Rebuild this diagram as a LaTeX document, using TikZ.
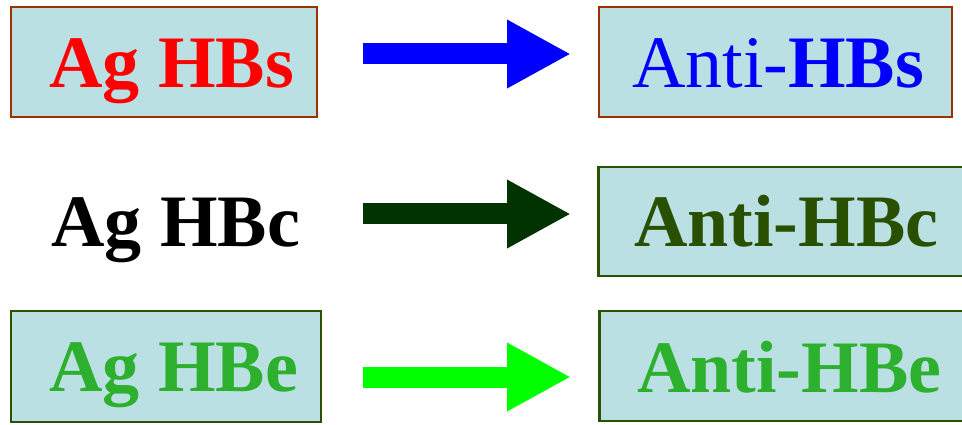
\documentclass[tikz,border=0pt]{standalone}
\usepackage{fontspec}
\setmainfont{Liberation Serif}
\usetikzlibrary{arrows.meta}
\definecolor{boxfill}{RGB}{187,224,227}
\definecolor{brownline}{RGB}{153,51,0}
\definecolor{dkgreenline}{RGB}{43,82,0}
\definecolor{dkgreentext}{RGB}{40,80,0}
\definecolor{greentext}{RGB}{45,176,45}
\definecolor{arrowdk}{RGB}{0,51,0}
\definecolor{arrowlt}{RGB}{0,255,0}
\tikzset{
  box/.style={draw, fill=boxfill, line width=2.2pt, inner sep=0pt},
  lbl/.style={anchor=base west, inner sep=0pt, font=\fontsize{74}{80}\selectfont},
  blockarrow/.style={line width=21pt, -{Triangle[length=64pt,width=64pt]}}
}
\begin{document}
\begin{tikzpicture}[x=1pt,y=-1pt]
\useasboundingbox (0,0) rectangle (962,425);
% boxes
\node[box, draw=brownline, minimum width=305.5pt, minimum height=109.5pt] (b1) at (164,62) {};
\node[box, draw=brownline, minimum width=352.5pt, minimum height=109.5pt] (b2) at (775.5,62) {};
\node[box, draw=dkgreenline, minimum width=370pt, minimum height=108.5pt] (b3) at (783.5,221.5) {};
\node[box, draw=dkgreenline, minimum width=309.5pt, minimum height=110.5pt] (b4) at (166,366.5) {};
\node[box, draw=dkgreenline, minimum width=370pt, minimum height=109.5pt] (b5) at (784.5,366) {};
% texts
\node[lbl, text=red] (t1) at (49,88) {\bfseries Ag HBs};
\node[lbl, text=blue] (t2) at (632,88) {Anti-\textbf{HBs}};
\node[lbl, text=black] (t3) at (51,246) {\bfseries Ag HBc};
\node[lbl, text=dkgreentext] (t4) at (634,247) {\bfseries Anti-HBc};
\node[lbl, text=greentext] (t5) at (49,391) {\bfseries Ag HBe};
\node[lbl, text=greentext] (t6) at (637,392) {\bfseries Anti-HBe};
% arrow ends
\coordinate (a1s) at (363,54);  \coordinate (a1e) at (571,54);
\coordinate (a2s) at (363,214); \coordinate (a2e) at (571,214);
\coordinate (a3s) at (363,377); \coordinate (a3e) at (571,377);
\draw[blockarrow, blue, fill=blue] (a1s) -- (a1e);
\draw[blockarrow, arrowdk, fill=arrowdk] (a2s) -- (a2e);
\draw[blockarrow, arrowlt, fill=arrowlt] (a3s) -- (a3e);
\end{tikzpicture}
\end{document}
